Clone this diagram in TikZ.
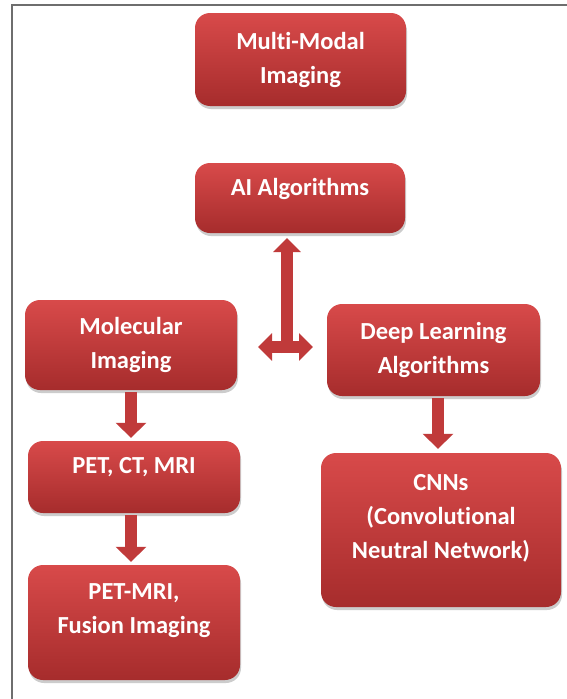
\documentclass[tikz,border=0pt]{standalone}
\usepackage{fontspec}
\setmainfont{Carlito}[Ligatures=NoCommon]
\usetikzlibrary{shadows,arrows.meta}
\definecolor{boxtop}{HTML}{D84A4A}
\definecolor{boxbot}{HTML}{A62C2C}
\definecolor{arr}{HTML}{C03A3A}
\definecolor{frame}{HTML}{6E6E6E}
\begin{document}
\begin{tikzpicture}[x=1pt,y=-1pt,
  box/.style={rounded corners=15pt, top color=boxtop, bottom color=boxbot, draw=none,
    drop shadow={opacity=0.4, shadow xshift=1pt, shadow yshift=-3pt}},
  lbl/.style={text=white, font=\bfseries\fontsize{24.5}{34}\selectfont, align=center},
  arrline/.style={draw=arr, line width=12pt, -{Triangle[width=30pt,length=15pt]}},
  tarr/.style={draw=arr, line width=12pt},
  ttip/.tip={Triangle[width=27pt,length=14pt]}]
\useasboundingbox (0,0) rectangle (567,699);
\fill[white] (0,0) rectangle (567,699);
\draw[frame, line width=1.6pt] (12,699) -- (12,5) -- (567,5);

\node[box, minimum width=211pt, minimum height=93pt,
  label={[lbl]center:Multi-Modal\\Imaging}] (mm) at (300.5,59.5) {};
\node[box, minimum width=210pt, minimum height=70pt,
  label={[lbl, yshift=9pt]center:AI Algorithms}] (ai) at (300,198) {};
\node[box, minimum width=212pt, minimum height=90pt,
  label={[lbl]center:Molecular\\Imaging}] (mol) at (131,345) {};
\node[box, minimum width=212pt, minimum height=72pt,
  label={[lbl, yshift=10pt]center:PET, CT, MRI}] (pet) at (134,477) {};
\node[box, minimum width=212pt, minimum height=115pt,
  label={[lbl, yshift=12pt]center:PET-MRI,\\Fusion Imaging}] (fus) at (134,622.5) {};
\node[box, minimum width=213pt, minimum height=92pt,
  label={[lbl]center:Deep Learning\\Algorithms}] (dl) at (433.5,350) {};
\node[box, minimum width=240pt, minimum height=154pt,
  label={[lbl, yshift=12pt]center:CNNs\\(Convolutional\\Neutral Network)}] (cnn) at (441,530) {};

\coordinate (xl) at (131,0);
\coordinate (xr) at (438,0);
\draw[arrline] ([yshift=-2pt]mol.south -| xl) -- ([yshift=3pt]pet.north -| xl);
\draw[arrline] ([yshift=-2pt]pet.south -| xl) -- ([yshift=3pt]fus.north -| xl);
\draw[arrline] ([yshift=-2pt]dl.south -| xr) -- ([yshift=4pt]cnn.north -| xr);

\coordinate (jc) at (287,353);
\coordinate (jt) at (287,238);
\coordinate (jl) at (258,347);
\coordinate (jr) at (313,347);
\draw[tarr, -ttip] (jc) -- (jt);
\draw[tarr, ttip-ttip] (jl) -- (jr);
\end{tikzpicture}
\end{document}
